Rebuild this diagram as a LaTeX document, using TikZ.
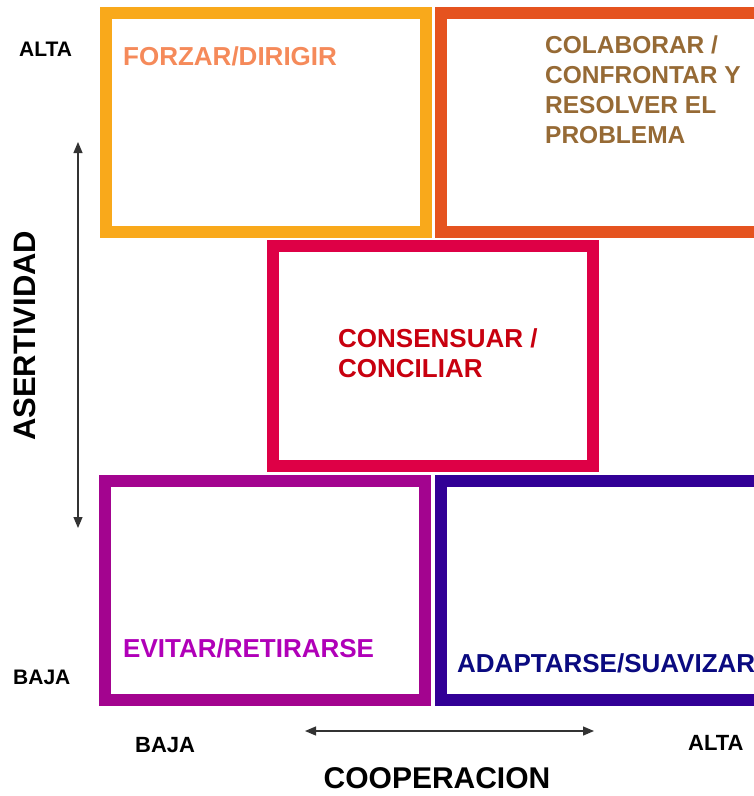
\documentclass[tikz,border=0pt]{standalone}
\usepackage{fontspec}
\setmainfont{Liberation Sans}
\usepackage{tikz}
\usetikzlibrary{arrows.meta, positioning, calc}

\definecolor{naranja}{RGB}{249,169,27}
\definecolor{rojizo}{RGB}{229,83,31}
\definecolor{carmin}{RGB}{222,0,70}
\definecolor{morado}{RGB}{163,4,143}
\definecolor{indigo}{RGB}{50,0,150}
\definecolor{txtforzar}{RGB}{245,138,90}
\definecolor{txtcolabora}{RGB}{150,106,53}
\definecolor{txtconsenso}{RGB}{200,0,15}
\definecolor{txtevitar}{RGB}{176,0,184}
\definecolor{txtadapta}{RGB}{10,10,128}

\begin{document}
\begin{tikzpicture}[x=1pt, y=-1pt,
        caja/.style={draw=#1, line width=12pt, minimum width=320pt, minimum height=219pt, inner sep=0pt},
        rotulo/.style={anchor=base west, inner sep=0pt, align=left, text=#1,
            font=\bfseries\fontsize{26}{30}\selectfont},
        nivel/.style={anchor=base west, inner sep=0pt, font=\bfseries\fontsize{21}{24}\selectfont},
        flecha/.style={{Triangle[length=11pt, width=9pt]}-{Triangle[length=11pt, width=9pt]}, line width=1.2pt, black!80}]
        \useasboundingbox (0, 0) rectangle (754, 796);

        % Cajas
        \node[caja=naranja] (forzar) at (265.5, 122.5) {};
        \node[caja=rojizo] (colaborar) at (600.5, 122.5) {};
        \node[caja=carmin, minimum height=220pt] (consensuar) at (433, 356) {};
        \node[caja=morado] (evitar) at (265, 590.5) {};
        \node[caja=indigo] (adaptarse) at (600.5, 590.5) {};

        % Estilos (la base es la de la ultima linea)
        \node[rotulo=txtforzar] (tforzar) at (123, 65) {FORZAR/DIRIGIR};
        \node[rotulo=txtcolabora, font=\bfseries\fontsize{24.5}{30}\selectfont] (tcolaborar) at (545, 143)
            {COLABORAR /\\CONFRONTAR Y\\RESOLVER EL\\PROBLEMA};
        \node[rotulo=txtconsenso] (tconsensuar) at (338, 377) {CONSENSUAR /\\CONCILIAR};
        \node[rotulo=txtevitar] (tevitar) at (123, 657) {EVITAR/RETIRARSE};
        \node[rotulo=txtadapta] (tadaptarse) at (457, 672) {ADAPTARSE/SUAVIZAR};

        % Eje vertical
        \node[nivel] (altaV) at (19, 56) {ALTA};
        \node[nivel] (bajaV) at (13, 684) {BAJA};
        \node[anchor=base west, inner sep=0pt, rotate=90, font=\bfseries\fontsize{31}{34}\selectfont]
            (asertividad) at (35, 441) {ASERTIVIDAD};
        \coordinate (asertArriba) at (78, 142);
        \coordinate (asertAbajo) at (78, 528);
        \draw[flecha] (asertArriba) -- (asertAbajo);

        % Eje horizontal
        \node[nivel, font=\bfseries\fontsize{22}{24}\selectfont] (bajaH) at (135, 752) {BAJA};
        \node[nivel, font=\bfseries\fontsize{22}{24}\selectfont] (altaH) at (688, 750) {ALTA};
        \node[anchor=base, inner sep=0pt, font=\bfseries\fontsize{30}{34}\selectfont]
            (cooperacion) at (437, 788) {COOPERACION};
        \coordinate (coopIzq) at (305, 731);
        \coordinate (coopDer) at (594, 731);
        \draw[flecha] (coopIzq) -- (coopDer);
\end{tikzpicture}
\end{document}
